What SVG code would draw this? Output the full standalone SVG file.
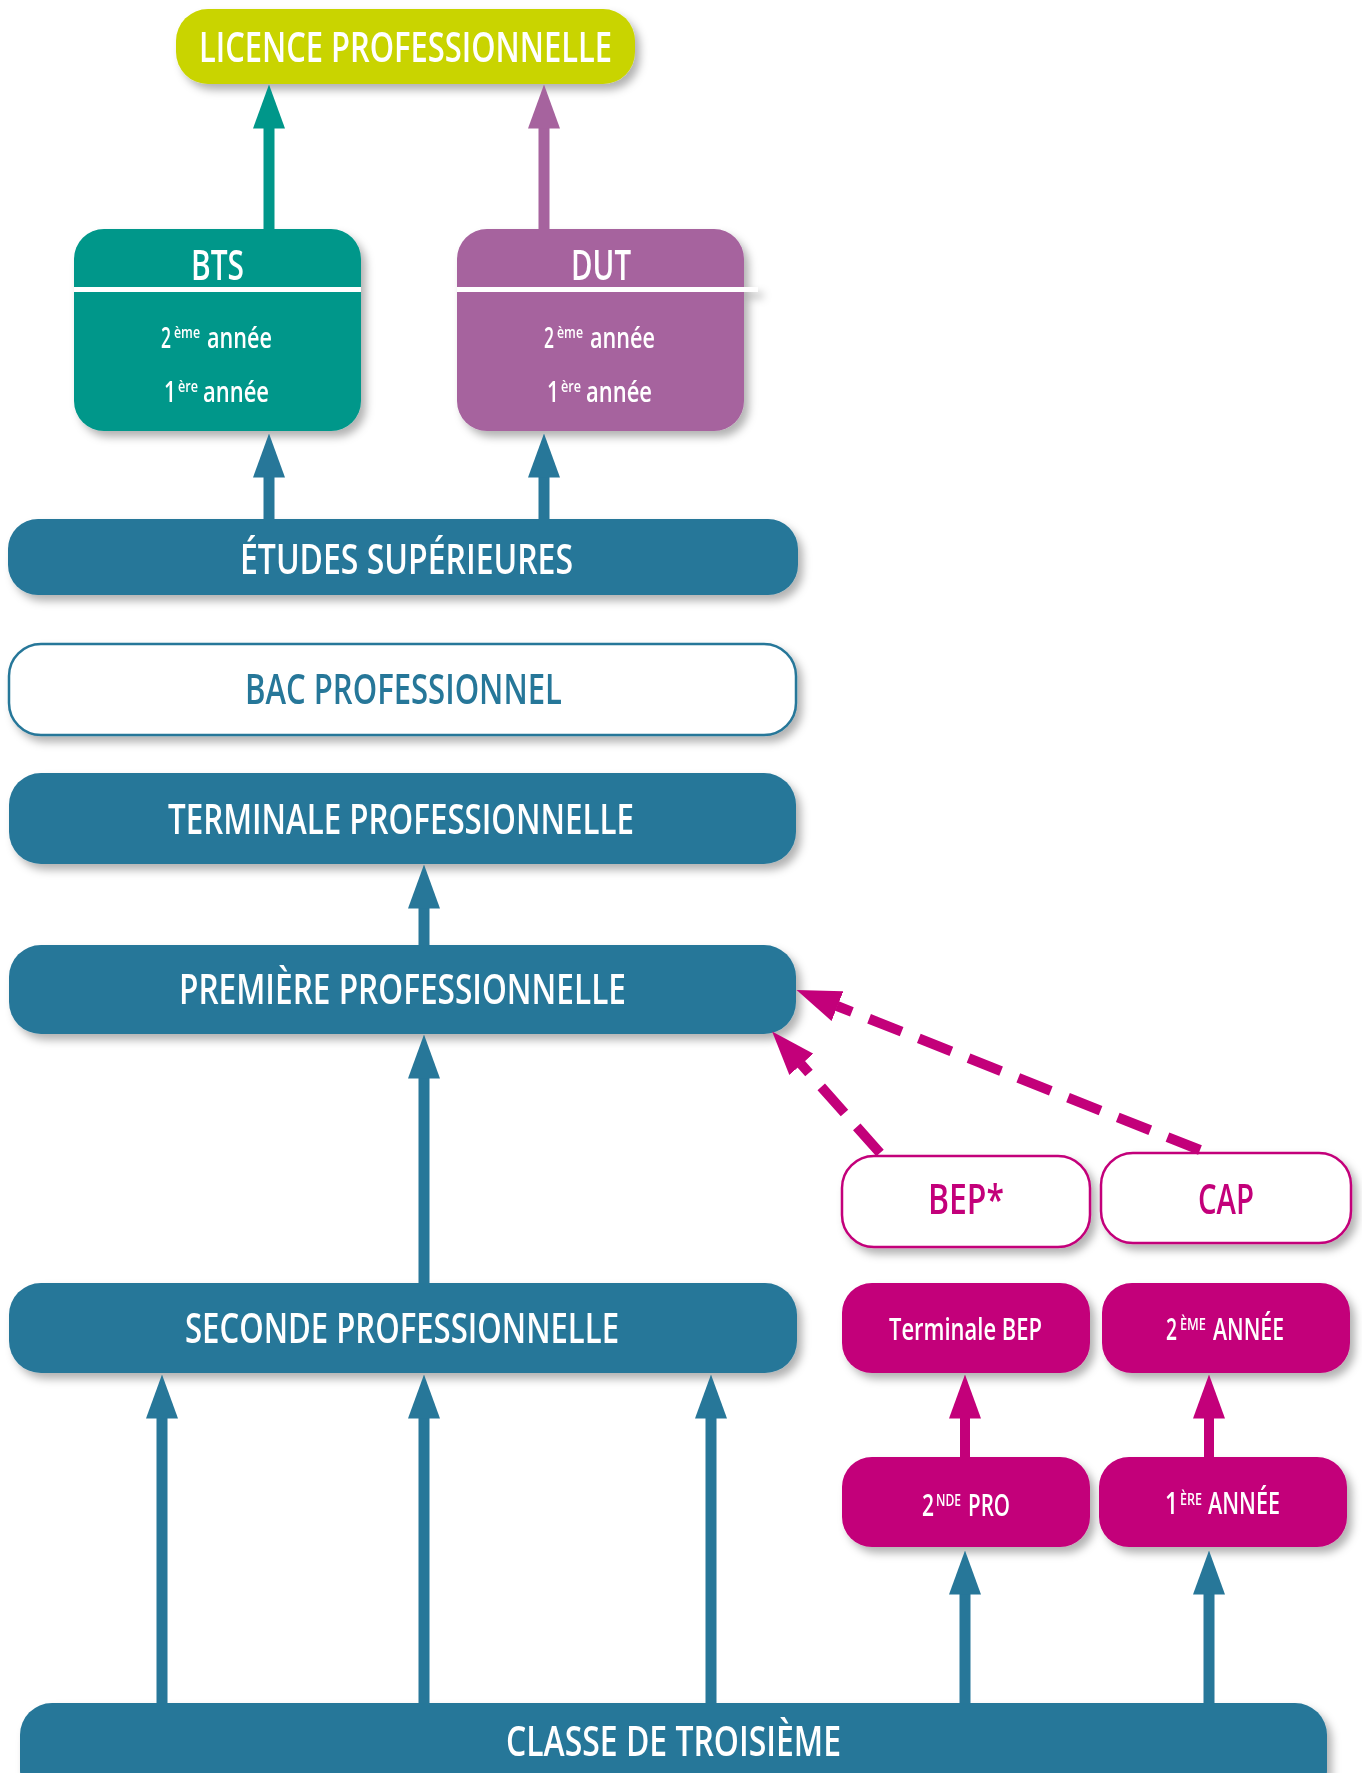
<svg xmlns="http://www.w3.org/2000/svg" width="1362" height="1773" viewBox="0 0 1362 1773">
<defs>
<style>
text{font-family:"Open Sans","Liberation Sans",sans-serif;font-weight:600;fill:#fff}
.big{font-size:42px}
.mid{font-size:30px}
.yr{font-size:28px}
.sup{font-size:16px}
.blue{fill:#277799}
.teal{fill:#00978a}
.purple{fill:#a6639e}
.lime{fill:#c9d400}
.mag{fill:#c3007a}
.outB{fill:#fff;stroke:#277799;stroke-width:2.5}
.outM{fill:#fff;stroke:#c3007a;stroke-width:2.5}
.tb{fill:#277799}
.tm{fill:#c3007a}
.node{filter:url(#sh)}
.cb{stroke:#277799;stroke-width:11;fill:none}
.ct{stroke:#00978a;stroke-width:11;fill:none}
.cp{stroke:#a6639e;stroke-width:11;fill:none}
.cm{stroke:#c3007a;stroke-width:10;fill:none}
.dash{stroke-dasharray:35 18.5}
</style>
<filter id="sh" x="-10%" y="-20%" width="130%" height="160%">
<feDropShadow dx="5" dy="6" stdDeviation="4" flood-color="#000" flood-opacity="0.3"/>
</filter>
<marker id="hb" markerUnits="userSpaceOnUse" viewBox="0 0 44 32" markerWidth="44" markerHeight="32" refX="0.5" refY="16" orient="auto"><path d="M0,0 L44,16 L0,32 Z" fill="#277799"/></marker>
<marker id="ht" markerUnits="userSpaceOnUse" viewBox="0 0 44 32" markerWidth="44" markerHeight="32" refX="0.5" refY="16" orient="auto"><path d="M0,0 L44,16 L0,32 Z" fill="#00978a"/></marker>
<marker id="hp" markerUnits="userSpaceOnUse" viewBox="0 0 44 32" markerWidth="44" markerHeight="32" refX="0.5" refY="16" orient="auto"><path d="M0,0 L44,16 L0,32 Z" fill="#a6639e"/></marker>
<marker id="hm" markerUnits="userSpaceOnUse" viewBox="0 0 44 32" markerWidth="44" markerHeight="32" refX="0.5" refY="16" orient="auto"><path d="M0,0 L44,16 L0,32 Z" fill="#c3007a"/></marker>
</defs>

<g id="licence" class="node">
<rect class="lime" x="176" y="9" width="459" height="75" rx="32"/>
<text class="big" x="199" y="62" textLength="413" lengthAdjust="spacingAndGlyphs">LICENCE PROFESSIONNELLE</text>
</g>

<g id="bts" class="node">
<rect class="teal" x="74" y="229" width="287" height="202" rx="30"/>
<rect x="74" y="287" width="287" height="5" fill="#fff"/>
<text class="big" x="191" y="280" textLength="53" lengthAdjust="spacingAndGlyphs">BTS</text>
<text class="yr" y="348"><tspan x="161" textLength="10" lengthAdjust="spacingAndGlyphs">2</tspan><tspan class="sup" x="174" y="338" textLength="26" lengthAdjust="spacingAndGlyphs">ème</tspan><tspan x="207" y="348" textLength="65" lengthAdjust="spacingAndGlyphs">année</tspan></text>
<text class="yr" y="402"><tspan x="164" textLength="12" lengthAdjust="spacingAndGlyphs">1</tspan><tspan class="sup" x="178" y="392" textLength="20" lengthAdjust="spacingAndGlyphs">ère</tspan><tspan x="203" y="402" textLength="66" lengthAdjust="spacingAndGlyphs">année</tspan></text>
</g>

<g id="dut" class="node">
<rect class="purple" x="457" y="229" width="287" height="202" rx="30"/>
<rect x="457" y="287" width="301" height="5" fill="#fff"/>
<text class="big" x="571" y="280" textLength="60" lengthAdjust="spacingAndGlyphs">DUT</text>
<text class="yr" y="348"><tspan x="544" textLength="10" lengthAdjust="spacingAndGlyphs">2</tspan><tspan class="sup" x="557" y="338" textLength="26" lengthAdjust="spacingAndGlyphs">ème</tspan><tspan x="590" y="348" textLength="65" lengthAdjust="spacingAndGlyphs">année</tspan></text>
<text class="yr" y="402"><tspan x="547" textLength="12" lengthAdjust="spacingAndGlyphs">1</tspan><tspan class="sup" x="561" y="392" textLength="20" lengthAdjust="spacingAndGlyphs">ère</tspan><tspan x="586" y="402" textLength="66" lengthAdjust="spacingAndGlyphs">année</tspan></text>
</g>

<g id="etudes" class="node">
<rect class="blue" x="8" y="519" width="790" height="76" rx="30"/>
<text class="big" x="240" y="574" textLength="333" lengthAdjust="spacingAndGlyphs">ÉTUDES SUPÉRIEURES</text>
</g>

<g id="bac" class="node">
<rect class="outB" x="9" y="644" width="787" height="91" rx="32"/>
<text class="big tb" x="245" y="704" textLength="317" lengthAdjust="spacingAndGlyphs">BAC PROFESSIONNEL</text>
</g>

<g id="terminale" class="node">
<rect class="blue" x="9" y="773" width="787" height="91" rx="32"/>
<text class="big" x="168" y="834" textLength="466" lengthAdjust="spacingAndGlyphs">TERMINALE PROFESSIONNELLE</text>
</g>

<g id="premiere" class="node">
<rect class="blue" x="9" y="945" width="787" height="89" rx="32"/>
<text class="big" x="179" y="1004" textLength="447" lengthAdjust="spacingAndGlyphs">PREMIÈRE PROFESSIONNELLE</text>
</g>

<g id="seconde" class="node">
<rect class="blue" x="9" y="1283" width="788" height="90" rx="32"/>
<text class="big" x="185" y="1343" textLength="434" lengthAdjust="spacingAndGlyphs">SECONDE PROFESSIONNELLE</text>
</g>

<g id="bep" class="node">
<rect class="outM" x="842" y="1156" width="248" height="91" rx="32"/>
<text class="big tm" x="928" y="1214" textLength="76" lengthAdjust="spacingAndGlyphs">BEP*</text>
</g>

<g id="cap" class="node">
<rect class="outM" x="1101" y="1153" width="250" height="90" rx="32"/>
<text class="big tm" x="1198" y="1214" textLength="56" lengthAdjust="spacingAndGlyphs">CAP</text>
</g>

<g id="terminale-bep" class="node">
<rect class="mag" x="842" y="1283" width="248" height="90" rx="30"/>
<text class="mid" x="889" y="1340" textLength="153" lengthAdjust="spacingAndGlyphs">Terminale BEP</text>
</g>

<g id="cap-2eme" class="node">
<rect class="mag" x="1102" y="1283" width="248" height="90" rx="30"/>
<text class="mid" y="1340"><tspan x="1166" textLength="11" lengthAdjust="spacingAndGlyphs">2</tspan><tspan class="sup" x="1180" y="1330" textLength="26" lengthAdjust="spacingAndGlyphs">ÈME</tspan><tspan x="1213" y="1340" textLength="71" lengthAdjust="spacingAndGlyphs">ANNÉE</tspan></text>
</g>

<g id="seconde-pro" class="node">
<rect class="mag" x="842" y="1457" width="248" height="90" rx="30"/>
<text class="mid" y="1516"><tspan x="922" textLength="12" lengthAdjust="spacingAndGlyphs">2</tspan><tspan class="sup" x="936" y="1506" textLength="25" lengthAdjust="spacingAndGlyphs">NDE</tspan><tspan x="968" y="1516" textLength="42" lengthAdjust="spacingAndGlyphs">PRO</tspan></text>
</g>

<g id="cap-1ere" class="node">
<rect class="mag" x="1099" y="1457" width="248" height="90" rx="30"/>
<text class="mid" y="1514"><tspan x="1165" textLength="13" lengthAdjust="spacingAndGlyphs">1</tspan><tspan class="sup" x="1180" y="1505" textLength="22" lengthAdjust="spacingAndGlyphs">ÈRE</tspan><tspan x="1208" y="1514" textLength="72" lengthAdjust="spacingAndGlyphs">ANNÉE</tspan></text>
</g>

<g id="troisieme" class="node">
<rect class="blue" x="20" y="1703" width="1307" height="100" rx="32"/>
<text class="big" x="506" y="1756" textLength="335" lengthAdjust="spacingAndGlyphs">CLASSE DE TROISIÈME</text>
</g>

<g id="connectors">
<line class="ct" x1="269" y1="229" x2="269" y2="128" marker-end="url(#ht)"/>
<line class="cp" x1="544" y1="229" x2="544" y2="128" marker-end="url(#hp)"/>
<line class="cb" x1="269" y1="519" x2="269" y2="477" marker-end="url(#hb)"/>
<line class="cb" x1="544" y1="519" x2="544" y2="477" marker-end="url(#hb)"/>
<line class="cb" x1="424" y1="945" x2="424" y2="908" marker-end="url(#hb)"/>
<line class="cb" x1="424" y1="1283" x2="424" y2="1078" marker-end="url(#hb)"/>
<line class="cb" x1="162" y1="1703" x2="162" y2="1418" marker-end="url(#hb)"/>
<line class="cb" x1="424" y1="1703" x2="424" y2="1418" marker-end="url(#hb)"/>
<line class="cb" x1="711" y1="1703" x2="711" y2="1418" marker-end="url(#hb)"/>
<line class="cb" x1="965" y1="1703" x2="965" y2="1594" marker-end="url(#hb)"/>
<line class="cb" x1="1209" y1="1703" x2="1209" y2="1594" marker-end="url(#hb)"/>
<line class="cm" x1="965" y1="1457" x2="965" y2="1418" marker-end="url(#hm)"/>
<line class="cm" x1="1209" y1="1457" x2="1209" y2="1418" marker-end="url(#hm)"/>
<line class="cm dash" x1="1200" y1="1150" x2="837" y2="1006" marker-end="url(#hm)"/>
<line class="cm dash" x1="880" y1="1153" x2="801" y2="1064" marker-end="url(#hm)"/>
</g>
</svg>
